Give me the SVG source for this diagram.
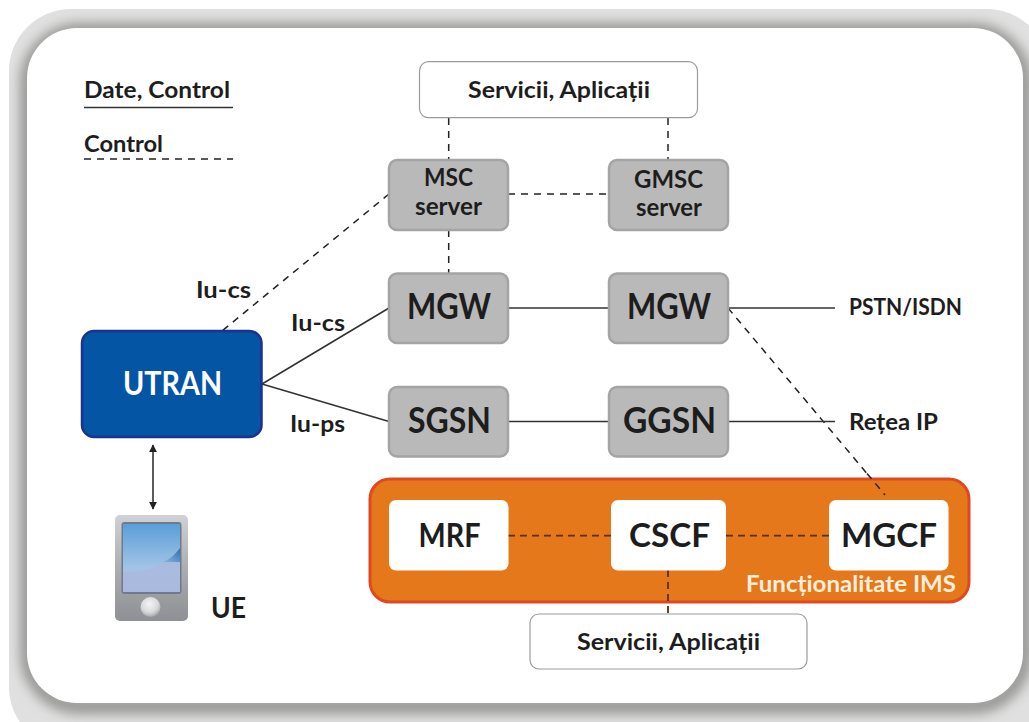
<svg xmlns="http://www.w3.org/2000/svg" width="1029" height="722" viewBox="0 0 1029 722">
<defs>
<filter id="soft" x="-5%" y="-5%" width="110%" height="110%"><feGaussianBlur stdDeviation="6"/></filter>
<clipPath id="frameClip"><rect x="9" y="9" width="1040" height="740" rx="62"/></clipPath>
<linearGradient id="dev" x1="0" y1="0" x2="0" y2="1"><stop offset="0" stop-color="#d0d1d4"/><stop offset="0.55" stop-color="#a9aaae"/><stop offset="1" stop-color="#8f9095"/></linearGradient>
<linearGradient id="scr" x1="0" y1="0" x2="0" y2="1"><stop offset="0" stop-color="#5b9ed8"/><stop offset="0.65" stop-color="#a3c4e6"/><stop offset="1" stop-color="#aab9de"/></linearGradient>
<linearGradient id="tri" x1="0" y1="1" x2="1" y2="0"><stop offset="0" stop-color="#8db6e0"/><stop offset="1" stop-color="#2f6fb0"/></linearGradient>
<radialGradient id="btn" cx="0.45" cy="0.35" r="0.7"><stop offset="0" stop-color="#f4f4f5"/><stop offset="0.6" stop-color="#d8d9dc"/><stop offset="1" stop-color="#9a9ca2"/></radialGradient>
<marker id="ah" viewBox="0 0 10 10" refX="9" refY="5" markerWidth="8" markerHeight="8" orient="auto-start-reverse" markerUnits="userSpaceOnUse"><path d="M0 0L10 5L0 10Z" fill="#222"/></marker>
</defs>
<style>
text{font-family:"Lato","Liberation Sans",Arial,sans-serif;font-weight:700;fill:#1d1d1d;text-anchor:middle}
.gray{fill:#b9b9b9;stroke:#a4a4a4;stroke-width:2.5}
.white{fill:#fff;stroke:#9c9c9c;stroke-width:1.2}
.inner{fill:#fff}
.s{fill:none;stroke:#333;stroke-width:1.6}
.d{fill:none;stroke:#222;stroke-width:1.5;stroke-dasharray:7 6}
.dl{fill:none;stroke:#5a2c10;stroke-width:1.8;stroke-dasharray:7 5}
.lg{font-size:36px}.md{font-size:24px}.sm{font-size:22px}
</style>
<rect width="1029" height="722" fill="#fff"/>
<g id="frame">
<rect x="9" y="9" width="1040" height="740" rx="62" fill="#e0e0e0"/>
<g clip-path="url(#frameClip)"><rect x="28" y="31" width="996" height="675" rx="52" fill="none" stroke="#979795" stroke-width="16" filter="url(#soft)"/></g>
<rect x="27" y="28" width="996" height="675" rx="50" fill="#fff"/>
</g>
<g id="connectors">
<path class="s" d="M84 107.500H233"/>
<path class="d" d="M84 159H233"/>
<path class="d" d="M448.700 118V159M668 118V159M508 194H609M448.700 230V273M389 194L222 331M728 308L885 495"/>
<path class="s" d="M262 384L389 308M262 384L389 421.500M508 308H609M728 308H835M508 421.500H609M728 421.500H835"/>
<path fill="none" stroke="#333" stroke-width="1.6" d="M153 445V509" marker-start="url(#ah)" marker-end="url(#ah)"/>
</g>
<g id="legend">
<text x="157" y="98" class="sm" textLength="146" lengthAdjust="spacingAndGlyphs">Date, Control</text>
<text x="123.500" y="152" class="sm" textLength="79" lengthAdjust="spacingAndGlyphs">Control</text>
</g>
<g id="servicii-top"><rect class="white" x="419.500" y="61.700" width="278" height="56" rx="9"/><text x="559" y="98" class="sm" textLength="182" lengthAdjust="spacingAndGlyphs">Servicii, Aplicații</text></g>
<g id="msc"><rect class="gray" x="389" y="160" width="119" height="70" rx="8"/><text x="448.500" y="186" class="md" textLength="49" lengthAdjust="spacingAndGlyphs">MSC</text><text x="448.500" y="215" class="md" textLength="67" lengthAdjust="spacingAndGlyphs">server</text></g>
<g id="gmsc"><rect class="gray" x="609" y="160" width="119" height="70" rx="8"/><text x="668.500" y="188" class="md" textLength="69" lengthAdjust="spacingAndGlyphs">GMSC</text><text x="669" y="216" class="md" textLength="66" lengthAdjust="spacingAndGlyphs">server</text></g>
<g id="mgw1"><rect class="gray" x="389" y="273.500" width="119" height="69.500" rx="8"/><text x="449" y="319" class="lg" textLength="84" lengthAdjust="spacingAndGlyphs">MGW</text></g>
<g id="mgw2"><rect class="gray" x="609" y="273.500" width="119" height="69.500" rx="8"/><text x="669" y="319" class="lg" textLength="84" lengthAdjust="spacingAndGlyphs">MGW</text></g>
<g id="sgsn"><rect class="gray" x="389" y="387" width="119" height="69.500" rx="8"/><text x="449.500" y="433" class="lg" textLength="83" lengthAdjust="spacingAndGlyphs">SGSN</text></g>
<g id="ggsn"><rect class="gray" x="609" y="387" width="119" height="69.500" rx="8"/><text x="669.500" y="433" class="lg" textLength="93" lengthAdjust="spacingAndGlyphs">GGSN</text></g>
<g id="utran"><rect x="82" y="331" width="179.500" height="106" rx="12" fill="#0455a4" stroke="#1d3192" stroke-width="2.5"/><text x="172.500" y="395" style="font-size:33px;fill:#fff" textLength="99" lengthAdjust="spacingAndGlyphs">UTRAN</text></g>
<g id="labels">
<text x="223.500" y="298" class="sm" textLength="55" lengthAdjust="spacingAndGlyphs">Iu-cs</text>
<text x="318" y="331" class="sm" textLength="54" lengthAdjust="spacingAndGlyphs">Iu-cs</text>
<text x="317.500" y="432" class="sm" textLength="55" lengthAdjust="spacingAndGlyphs">Iu-ps</text>
<text x="905.500" y="315" class="sm" textLength="113" lengthAdjust="spacingAndGlyphs">PSTN/ISDN</text>
<text x="893.500" y="430" class="sm" textLength="89" lengthAdjust="spacingAndGlyphs">Rețea IP</text>
</g>
<g id="ue">
<rect x="115" y="515" width="73" height="106" rx="5" fill="url(#dev)"/>
<rect x="121.500" y="522" width="60" height="72" rx="3" fill="#6f7b8c"/>
<rect x="123" y="524" width="57" height="68" fill="url(#scr)"/>
<path d="M123 592V572C150 572 165 565 180 548V592Z" fill="#abb8dd" opacity=".75"/>
<path d="M162 562C170 560 175 554 180 548V562Z" fill="url(#tri)"/>
<circle cx="150.500" cy="607" r="10" fill="url(#btn)"/>
<text x="228.500" y="618" style="font-size:29px" textLength="35" lengthAdjust="spacingAndGlyphs">UE</text>
</g>
<g id="ims">
<rect x="370" y="479" width="599" height="123" rx="20" fill="#e5781a" stroke="#e2481f" stroke-width="3"/>
<path class="dl" d="M508 535.700H611M726 535.700H829M668 570V614"/>
<path class="d" d="M867 473.400L885 495"/>
<text x="851" y="592" class="sm" style="fill:#fdeedd" textLength="210" lengthAdjust="spacingAndGlyphs">Funcționalitate IMS</text>
</g>
<g id="mrf"><rect class="inner" x="389" y="500" width="119.500" height="70.500" rx="7"/><text x="449.500" y="546.500" style="font-size:33px" textLength="62" lengthAdjust="spacingAndGlyphs">MRF</text></g>
<g id="cscf"><rect class="inner" x="611" y="500" width="115" height="70.500" rx="7"/><text x="669.500" y="546.500" style="font-size:33px" textLength="81" lengthAdjust="spacingAndGlyphs">CSCF</text></g>
<g id="mgcf"><rect class="inner" x="829" y="500" width="119.500" height="70.500" rx="7"/><text x="889" y="546.500" style="font-size:33px" textLength="96" lengthAdjust="spacingAndGlyphs">MGCF</text></g>
<g id="servicii-bottom"><rect class="white" x="530" y="614" width="277" height="55" rx="9"/><text x="668.500" y="650" class="sm" textLength="183" lengthAdjust="spacingAndGlyphs">Servicii, Aplicații</text></g>
</svg>
